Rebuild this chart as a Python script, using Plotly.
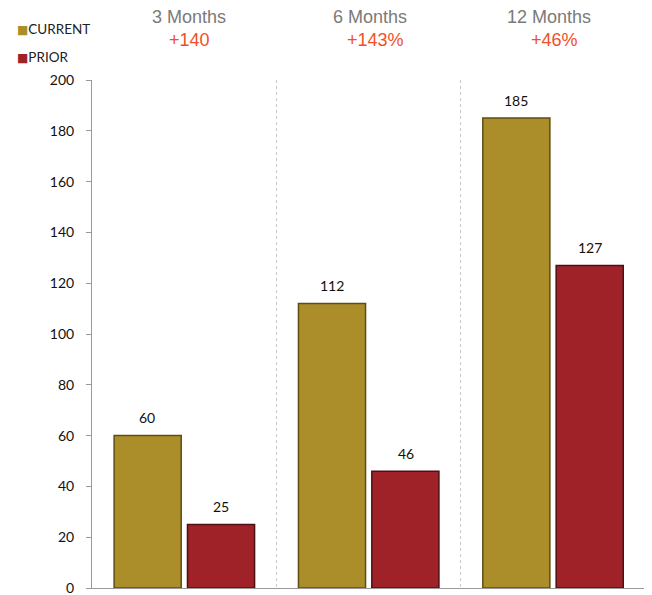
import plotly.graph_objects as go

categories = ["3 Months", "6 Months", "12 Months"]
current = [60, 112, 185]
prior = [25, 46, 127]
changes = ["+140", "+143%", "+46%"]
y_ticks = [0, 20, 40, 60, 80, 100, 120, 140, 160, 180, 200]

GOLD = "#AB8E2A"
RED = "#9E2228"
LABEL_FONT = dict(family="Lato, sans-serif", size=14, color="#111")
HEAD_FONT = "Liberation Sans, Arial, sans-serif"

fig = go.Figure()
fig.add_trace(go.Bar(
    x=categories, y=current, name="CURRENT",
    width=0.364, offset=-0.380,
    marker=dict(color=GOLD, line=dict(color="#5E4E14", width=1.5)),
))
fig.add_trace(go.Bar(
    x=categories, y=prior, name="PRIOR",
    width=0.364, offset=0.018,
    marker=dict(color=RED, line=dict(color="#4E1014", width=1.5)),
))

# value labels above bars
for cat, v in zip(categories, current):
    fig.add_annotation(x=cat, y=v, xref="x", yref="y", text=str(v), showarrow=False,
                       xshift=-37, yshift=18, font=LABEL_FONT)
for cat, v in zip(categories, prior):
    fig.add_annotation(x=cat, y=v, xref="x", yref="y", text=str(v), showarrow=False,
                       xshift=37, yshift=18, font=LABEL_FONT)

# period headers
head_shift = [5, 1, -4]
change_shift = [5, 7, 2]
for cat, ch, hs, cs in zip(categories, changes, head_shift, change_shift):
    fig.add_annotation(x=cat, y=1.124, xref="x", yref="paper", text=cat,
                       showarrow=False, yanchor="middle", xshift=hs,
                       font=dict(family=HEAD_FONT, size=18, color="#7a7a7a"))
    fig.add_annotation(x=cat, y=1.078, xref="x", yref="paper", text=ch,
                       showarrow=False, yanchor="middle", xshift=cs,
                       font=dict(family=HEAD_FONT, size=18, color="#F0502A"))

# legend
for name, col, yy in [("CURRENT", GOLD, 1.100), ("PRIOR", RED, 1.045)]:
    fig.add_annotation(x=0, y=yy, xref="paper", yref="paper", xanchor="left", yanchor="middle",
                       xshift=-77, showarrow=False,
                       text=f"<span style='color:{col};font-size:12px;font-family:DejaVu Sans'>■</span>{name}",
                       font=dict(family="Lato, sans-serif", size=13.5, color="#222"))

fig.update_layout(
    width=644, height=587,
    margin=dict(l=84, r=7, t=72, b=7, autoexpand=False),
    plot_bgcolor="white", paper_bgcolor="white",
    barmode="overlay",
    showlegend=False,
    xaxis=dict(showticklabels=False, tickson="boundaries", ticks="",
               showgrid=True, gridcolor="#c8c8c8", griddash="dot", gridwidth=1,
               showline=True, linecolor="#999", linewidth=1),
    yaxis=dict(range=[0, 200], tickvals=y_ticks, ticks="outside", ticklen=5,
               tickcolor="#999", showline=True, linecolor="#999", linewidth=1,
               showgrid=False, zeroline=False, ticklabelstandoff=9,
               ticklabeloverflow="allow",
               tickfont=LABEL_FONT),
)

fig.write_html("out.html")
